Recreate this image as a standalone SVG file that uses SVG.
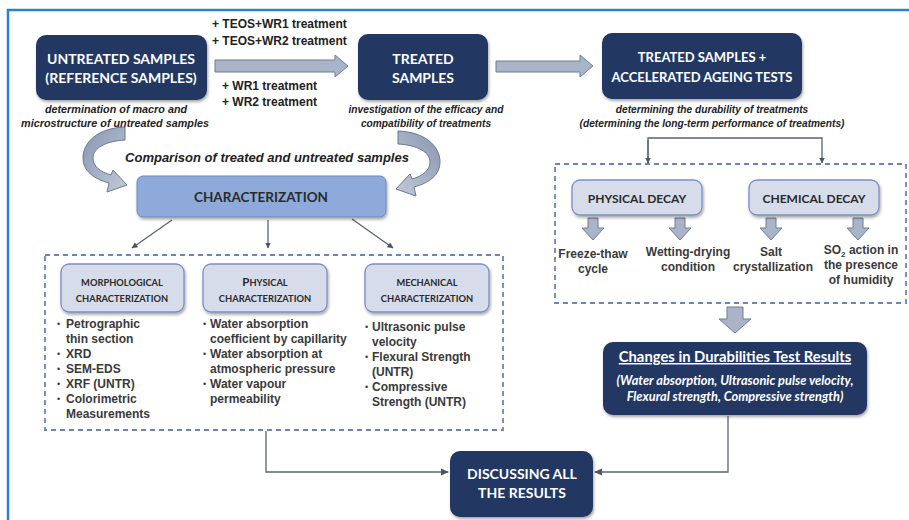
<svg xmlns="http://www.w3.org/2000/svg" width="909" height="520" viewBox="0 0 909 520">
<defs>
<filter id="sh" x="-10%" y="-10%" width="130%" height="140%"><feDropShadow dx="1" dy="2" stdDeviation="1.8" flood-color="#000" flood-opacity="0.35"/></filter>
<marker id="ah" markerWidth="8" markerHeight="8" refX="7" refY="4" orient="auto" markerUnits="userSpaceOnUse"><path d="M0,0.5 L8,4 L0,7.5 Z" fill="#4d5566"/></marker>
<marker id="ahs" markerWidth="6" markerHeight="6" refX="5.5" refY="3" orient="auto" markerUnits="userSpaceOnUse"><path d="M0,0 L6,3 L0,6 Z" fill="#4d5566"/></marker>
<linearGradient id="cg" x1="0" y1="0" x2="1" y2="1"><stop offset="0" stop-color="#8795b0"/><stop offset="1" stop-color="#c3cbda"/></linearGradient>
</defs>
<style>
.navy{fill:#203864;filter:url(#sh)}
.wt{font-family:Lato,"Open Sans",sans-serif;font-weight:bold;fill:#fff;text-anchor:middle}
.cap{font-family:"Liberation Sans",Arial,sans-serif;font-weight:bold;font-style:italic;font-size:10.2px;fill:#222;text-anchor:middle}
.capl{font-size:10.8px}
.tr{font-family:"Liberation Sans",Arial,sans-serif;font-weight:bold;font-size:12px;fill:#222}
.li{font-family:"Liberation Sans",Arial,sans-serif;font-weight:bold;font-size:12px;fill:#3a3a3a}
.lc{font-family:"Liberation Sans",Arial,sans-serif;font-weight:bold;font-size:12px;fill:#3a3a3a;text-anchor:middle}
.bul{font-family:"Liberation Sans",Arial,sans-serif;font-size:9px;fill:#3a3a3a}
.lb{fill:#d6dce9;stroke:#7990c2;stroke-width:1.3;filter:url(#sh)}
.lt{font-family:Lato,"Open Sans",sans-serif;font-weight:bold;fill:#2a2a2a;text-anchor:middle}
.big{fill:#a9b4c8;stroke:#6f7c94;stroke-width:1}
.dash{fill:none;stroke:#6a84bd;stroke-width:1.8;stroke-dasharray:5,4}
.con{fill:none;stroke:#5a6272;stroke-width:1.3}
</style>
<g id="frame"><path d="M8,520 V10 H909" fill="none" stroke="#2f7fd0" stroke-width="2.5"/></g>

<g id="connectors">
<polygon class="big" points="215,60 335,60 335,55 348,66 335,77 335,72 215,72"/>
<polygon class="big" points="496,61 580,61 580,55 593,66 580,77 580,72 496,72"/>
<path d="M125,127 C98,128 83,142 83,158 C83,171 94,179 109,183 L107,192 L127,185 L113,170 L111,175 C100,172 93,166 93,158 C93,148 106,141 125,140 Z" fill="url(#cg)" stroke="#6b7892" stroke-width="1"/>
<path transform="translate(523,4) scale(-1,1)" d="M125,127 C98,128 83,142 83,158 C83,171 94,179 109,183 L107,192 L127,185 L113,170 L111,175 C100,172 93,166 93,158 C93,148 106,141 125,140 Z" fill="url(#cg)" stroke="#6b7892" stroke-width="1"/>
<line class="con" x1="172" y1="220" x2="132" y2="248" marker-end="url(#ahs)"/>
<line class="con" x1="268" y1="220" x2="268" y2="248" marker-end="url(#ahs)"/>
<line class="con" x1="352" y1="219" x2="393" y2="248" marker-end="url(#ahs)"/>
<path class="con" d="M648,163 V138 H822 V163" marker-end="url(#ahs)"/>
<line class="con" x1="648" y1="140" x2="648" y2="163" marker-end="url(#ahs)"/>
<polygon class="big" points="588,218 598,218 598,228 604,228 593,240 582,228 588,228"/>
<polygon class="big" points="675,218 685,218 685,228 691,228 680,240 669,228 675,228"/>
<polygon class="big" points="766,218 776,218 776,228 782,228 771,240 760,228 766,228"/>
<polygon class="big" points="853,218 863,218 863,228 869,228 858,240 847,228 853,228"/>
<polygon class="big" points="727,307 743,307 743,319 751,319 735,333 719,319 727,319"/>
<path class="con" d="M266,431 V472 H448" marker-end="url(#ah)"/>
<path class="con" d="M728,416 V472 H595" marker-end="url(#ah)"/>
</g>

<g id="untreated">
<rect class="navy" x="36" y="35" width="171" height="65" rx="10"/>
<text class="wt" font-size="14" x="121" y="64">UNTREATED SAMPLES</text>
<text class="wt" font-size="14" x="121" y="83">(REFERENCE SAMPLES)</text>
<text class="cap capl" x="116" y="113">determination of macro and</text>
<text class="cap capl" x="115" y="127">microstructure of untreated samples</text>
</g>
<g id="treatments">
<text class="tr" x="212" y="28">+ TEOS+WR1 treatment</text>
<text class="tr" x="212" y="45">+ TEOS+WR2 treatment</text>
<text class="tr" x="222" y="90">+ WR1 treatment</text>
<text class="tr" x="222" y="106">+ WR2 treatment</text>
</g>
<g id="treated">
<rect class="navy" x="358" y="34" width="130" height="66" rx="10"/>
<text class="wt" font-size="14" x="423" y="64">TREATED</text>
<text class="wt" font-size="14" x="423" y="83">SAMPLES</text>
<text class="cap" x="426" y="113">investigation of the efficacy and</text>
<text class="cap" x="426" y="127">compatibility of treatments</text>
</g>
<g id="ageing">
<rect class="navy" x="602" y="33" width="200" height="66" rx="10"/>
<text class="wt" font-size="13" x="702" y="62">TREATED SAMPLES +</text>
<text class="wt" font-size="13" x="702" y="82">ACCELERATED AGEING TESTS</text>
<text class="cap" x="712" y="113">determining the durability of treatments</text>
<text class="cap" x="712" y="127">(determining the long-term performance of treatments)</text>
</g>
<g id="comparison">
<text x="267" y="162" font-family="Liberation Sans, Arial, sans-serif" font-weight="bold" font-style="italic" font-size="13" fill="#222" text-anchor="middle">Comparison of treated and untreated samples</text>
</g>
<g id="characterization">
<rect x="137" y="176" width="249" height="41" rx="6" fill="#8eaadb" stroke="#6d87bb" stroke-width="1" filter="url(#sh)"/>
<text class="lt" font-size="13.5" x="261" y="202">CHARACTERIZATION</text>
</g>
<g id="char-group">
<rect class="dash" x="45" y="255" width="458" height="175"/>
</g>
<g id="morphological">
<rect class="lb" x="61" y="264" width="123" height="48" rx="8"/>
<text class="lt" font-size="9.3" x="122" y="285.5">MORPHOLOGICAL</text>
<text class="lt" font-size="9.3" x="122" y="301.5">CHARACTERIZATION</text>
<text class="bul" x="57" y="327">•</text><text class="li" x="66" y="328">Petrographic</text>
<text class="li" x="66" y="343">thin section</text>
<text class="bul" x="57" y="357">•</text><text class="li" x="66" y="358">XRD</text>
<text class="bul" x="57" y="372">•</text><text class="li" x="66" y="373">SEM-EDS</text>
<text class="bul" x="57" y="387">•</text><text class="li" x="66" y="388">XRF (UNTR)</text>
<text class="bul" x="57" y="402">•</text><text class="li" x="66" y="403">Colorimetric</text>
<text class="li" x="66" y="418">Measurements</text>
</g>
<g id="physical">
<rect class="lb" x="203" y="264" width="124" height="48" rx="8"/>
<text class="lt" font-size="9.3" x="265" y="285.5"><tspan font-size="11.5">P</tspan>HYSICAL</text>
<text class="lt" font-size="9.3" x="265" y="301.5">CHARACTERIZATION</text>
<text class="bul" x="203" y="327">•</text><text class="li" x="210" y="328">Water absorption</text>
<text class="li" x="210" y="343">coefficient by capillarity</text>
<text class="bul" x="203" y="357">•</text><text class="li" x="210" y="358">Water absorption at</text>
<text class="li" x="210" y="373">atmospheric pressure</text>
<text class="bul" x="203" y="387">•</text><text class="li" x="210" y="388">Water vapour</text>
<text class="li" x="210" y="403">permeability</text>
</g>
<g id="mechanical">
<rect class="lb" x="365" y="264" width="124" height="48" rx="8"/>
<text class="lt" font-size="9.3" x="427" y="285.5">MECHANICAL</text>
<text class="lt" font-size="9.3" x="427" y="301.5">CHARACTERIZATION</text>
<text class="bul" x="365" y="330">•</text><text class="li" x="372" y="331">Ultrasonic pulse</text>
<text class="li" x="372" y="346">velocity</text>
<text class="bul" x="365" y="360">•</text><text class="li" x="372" y="361">Flexural Strength</text>
<text class="li" x="372" y="376">(UNTR)</text>
<text class="bul" x="365" y="390">•</text><text class="li" x="372" y="391">Compressive</text>
<text class="li" x="372" y="406">Strength (UNTR)</text>
</g>
<g id="decay-group">
<rect class="dash" x="555" y="164" width="351" height="139"/>
</g>
<g id="physical-decay">
<rect class="lb" x="572" y="180" width="130" height="35" rx="8"/>
<text class="lt" font-size="12" x="637" y="203">PHYSICAL DECAY</text>
<text class="lc" x="593" y="258">Freeze-thaw</text>
<text class="lc" x="593" y="273">cycle</text>
<text class="lc" x="688" y="256">Wetting-drying</text>
<text class="lc" x="688" y="271">condition</text>
</g>
<g id="chemical-decay">
<rect class="lb" x="749" y="180" width="130" height="35" rx="8"/>
<text class="lt" font-size="12" x="814" y="203">CHEMICAL DECAY</text>
<text class="lc" x="771" y="256">Salt</text>
<text class="lc" x="773" y="271">crystallization</text>
<text class="lc" x="861" y="254">SO<tspan font-size="8" dy="3">2</tspan><tspan dy="-3"> action in</tspan></text>
<text class="lc" x="861" y="269">the presence</text>
<text class="lc" x="861" y="284">of humidity</text>
</g>
<g id="changes">
<rect class="navy" x="603" y="342" width="264" height="73" rx="10"/>
<text class="wt" font-size="14.8" x="735" y="362" text-decoration="underline">Changes in Durabilities Test Results</text>
<text class="wt" font-size="12.8" font-style="italic" x="735" y="385">(Water absorption, Ultrasonic pulse velocity,</text>
<text class="wt" font-size="12.8" font-style="italic" x="735" y="401">Flexural strength, Compressive strength)</text>
</g>
<g id="discussing">
<rect class="navy" x="450" y="451" width="143" height="66" rx="10"/>
<text class="wt" font-size="14" x="522" y="479">DISCUSSING ALL</text>
<text class="wt" font-size="14" x="522" y="498">THE RESULTS</text>
</g>
</svg>
